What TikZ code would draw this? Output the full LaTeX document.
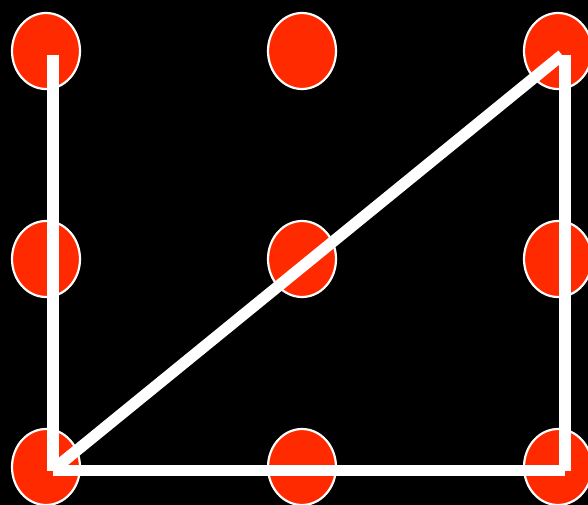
\documentclass[tikz,border=0pt]{standalone}
\usetikzlibrary{shapes.geometric}
\begin{document}
\begin{tikzpicture}[x=1pt,y=-1pt,
  dot/.style={ellipse,draw=white,line width=2.2pt,fill={rgb,255:red,255;green,42;blue,0},minimum width=68pt,minimum height=76pt,inner sep=0pt},
  stroke/.style={white,line width=11.5pt,line cap=butt}]
\useasboundingbox[fill=black] (0,0) rectangle (588,505);
\begin{scope}
\clip (0,0) rectangle (588,505);
\foreach \c/\x in {1/46,2/302,3/558}{
  \foreach \r/\y in {1/51,2/259,3/467}{
    \node[dot] (d\r\c) at (\x,\y) {};
  }
}
\end{scope}
\coordinate (lt) at (53,55);
\coordinate (lb) at (53,471);
\coordinate (hl) at (53,470.5);
\coordinate (hr) at (565,470.5);
\coordinate (rt) at (565,55);
\coordinate (rb) at (565,471);
\coordinate (ds) at (54,469);
\coordinate (de) at (562,55);
\draw[stroke,line width=12.5pt] (lt) -- (lb);
\draw[stroke,line width=12.5pt] (rt) -- (rb);
\draw[stroke,line width=11.5pt] (hl) -- (hr);
\draw[stroke,line width=11.5pt] (ds) -- (de);
\end{tikzpicture}
\end{document}
